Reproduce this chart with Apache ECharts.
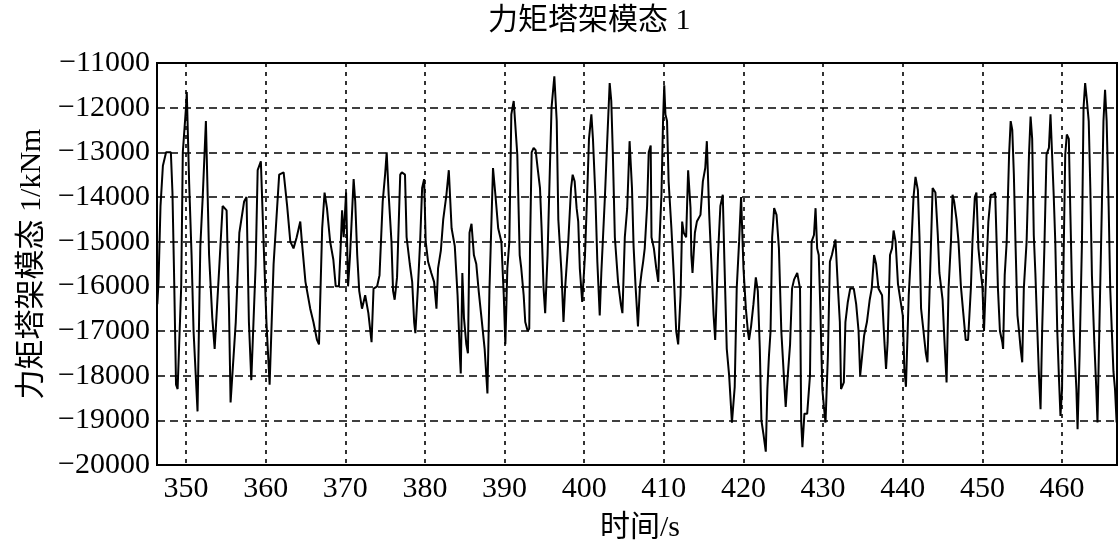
<!DOCTYPE html>
<html><head><meta charset="utf-8">
<script src="https://cdn.jsdelivr.net/npm/echarts@6/dist/echarts.min.js"></script>
<style>html,body{margin:0;padding:0;background:#fff}#c{width:1120px;height:545px}</style>
</head><body><div id="c"></div>
<script>
const titleText = '力矩塔架模态 1';
const xName = '时间/s';
const yName = '力矩塔架模态 1/kNm';
const xTicks = [350, 360, 370, 380, 390, 400, 410, 420, 430, 440, 450, 460];
const yTicks = [-20000, -19000, -18000, -17000, -16000, -15000, -14000, -13000, -12000, -11000];
const xRange = [346.36, 466.9];

// [time s, torque kNm]
const seg346 = [[346.4,-16400],[346.55,-15900],[346.8,-14200],[347.1,-13300],[347.5,-13000],[348.1,-13000],[348.3,-13900],[348.5,-15700],[348.75,-18200],[348.95,-18300],
[349.4,-16000],[349.6,-13000],[350.0,-12000],[350.1,-11650],[350.4,-13700],[350.7,-15300],[350.95,-17000],[351.45,-18800],[351.8,-15100],[352.1,-14000],
[352.5,-12300],[352.9,-15300],[353.3,-16700],[353.6,-17400],[354.2,-15500],[354.6,-14200],[355.1,-14300],[355.4,-16500],[355.6,-18600],[356.25,-16800],
[356.7,-14800],[357.3,-14100],[357.6,-14000],[357.9,-16800],[358.2,-18100],[358.75,-15500],[359.0,-13400],[359.4,-13200],[359.8,-15300],[360.1,-16800],
[360.5,-18200],[361.0,-15500],[361.7,-13500]];
const seg362 = [[362.26,-13450],[362.7,-14200],[363.1,-15000],[363.5,-15150],[363.9,-14900],[364.35,-14550],[364.55,-15000],
[365.0,-15900],[365.6,-16500],[366.0,-16800],[366.45,-17200],[366.7,-17300],[367.1,-14700],[367.4,-13900],[367.7,-14250],[368.1,-15000],[368.5,-15400],
[368.8,-16000],[369.2,-16000],[369.4,-15200],[369.6,-14300],[369.8,-14900],[370.1,-13900],[370.35,-16000],[370.6,-15300],[371.05,-13600],[371.25,-14100],
[371.5,-15300],[371.75,-16100],[372.1,-16500],[372.5,-16200],[372.9,-16600],[373.3,-17250],[373.55,-16050],[374.0,-16000],[374.3,-15750],[374.7,-14100],
[375.0,-13500],[375.2,-13000],[375.45,-13950],[375.8,-15000],[376.0,-16100],[376.2,-16300],[376.5,-15800],[376.9,-13500]];
const seg377 = [[377.1,-13450],[377.5,-13500],[377.7,-14900],[378.1,-15500],[378.4,-15900],[378.65,-16800],[378.8,-17050],[379.1,-16100],[379.4,-15000],[379.65,-13800],[379.9,-13600],
[380.1,-15000],[380.4,-15450],[380.8,-15700],[381.15,-15900],[381.45,-16500],[381.65,-15600],[382.0,-15200],[382.3,-14500],[382.7,-13950],[383.0,-13400],
[383.35,-14700],[383.75,-15100],[384.1,-16200],[384.4,-17600],[384.5,-17950],[384.7,-15700],[384.9,-16700],[385.2,-17300],[385.4,-17500],[385.6,-14800],
[385.85,-14600],[386.15,-15300],[386.45,-15500],[386.75,-16100],[387.1,-16700],[387.5,-17400],[387.85,-18400],[388.1,-16100],[388.55,-13350],[388.85,-13950],
[389.2,-14700],[389.6,-15000],[389.9,-16200],[390.1,-17300],[390.35,-15600],[390.6,-15000],[390.85,-12150],[391.15,-11850],[391.6,-13050],[391.9,-15300]];
const seg392 = [[392.1,-15600],[392.4,-16200],[392.6,-16800],[392.9,-17000],[393.1,-16950],[393.2,-15100],[393.4,-13000],[393.65,-12900],[393.9,-12950],[394.15,-13350],[394.45,-13800],
[394.65,-14700],[394.9,-16050],[395.1,-16600],[395.4,-15300],[395.7,-13300],[395.9,-12000],[396.25,-11300],[396.55,-12300],[396.75,-14500],[397.15,-15700],
[397.4,-16800],[397.6,-16050],[398.0,-15000],[398.35,-13800],[398.55,-13500],[398.8,-13650],[399.05,-14250],[399.25,-14550],[399.45,-15600],[399.75,-16350],
[399.9,-16350],[400.1,-15300],[400.4,-13800],[400.6,-12700],[400.9,-12150],[401.1,-12700],[401.4,-13950],[401.65,-15450],[401.95,-16650],[402.15,-15700],
[402.6,-14000],[402.9,-12700],[403.2,-11450],[403.4,-11850],[403.6,-13050],[403.85,-14900],[404.25,-15900],[404.6,-16400],[404.8,-16600],[405.1,-14900],
[405.4,-14250],[405.7,-12750],[406.0,-13800],[406.2,-15100],[406.45,-16000],[406.75,-16900],[407.0,-16000]];
const seg407 = [[407.2,-15700],[407.4,-15450],[407.6,-15150],[407.9,-14200],[408.1,-13000],[408.35,-12850],[408.45,-14900],[408.75,-15150],[409.05,-15600],[409.3,-15900],
[409.45,-15000],[409.7,-13950],[409.9,-12300],[410.05,-11500],[410.2,-12150],[410.4,-12300],[410.6,-13650],[410.95,-14700],[411.25,-15750],[411.55,-17000],
[411.8,-17300],[412.1,-16200],[412.3,-14550],[412.5,-14800],[412.8,-14900],[413.05,-13400],[413.35,-14250],[413.45,-15300],[413.6,-15700],[413.9,-14800],
[414.15,-14550],[414.6,-14400],[414.9,-13650],[415.2,-13350],[415.4,-12750],[415.7,-14400],[415.95,-15400],[416.25,-16650],[416.45,-17200],[416.8,-15300],
[417.1,-14200],[417.4,-13950],[417.6,-15400],[417.9,-17400],[418.2,-18000],[418.55,-19050],[418.9,-18250],[419.15,-16050],[419.45,-15000],[419.7,-14000],
[420.0,-15600],[420.3,-16500],[420.55,-17000],[420.7,-17200],[420.95,-16900],[421.25,-16400],[421.55,-15800],[421.8,-16100]];
const seg422 = [[422.05,-17400],[422.25,-19000],[422.5,-19300],[422.8,-19700],[423.0,-18300],[423.2,-17550],[423.4,-17000],[423.6,-14900],[423.85,-14250],[424.15,-14400],
[424.45,-15150],[424.75,-17000],[425.1,-18100],[425.3,-18700],[425.5,-18150],[425.85,-17300],[426.1,-16050],[426.35,-15850],[426.75,-15700],[427.1,-16050],
[427.25,-19050],[427.4,-19600],[427.65,-18850],[428.0,-18850],[428.35,-18000],[428.55,-15000],[428.85,-14850],[429.05,-14250],[429.25,-15150],[429.45,-15300],
[429.65,-16500],[429.9,-18300],[430.1,-18700],[430.3,-19050],[430.6,-17550],[430.85,-15450],[431.1,-15300],[431.55,-14950],[431.85,-16000],[432.1,-16800],
[432.25,-18300],[432.6,-18150],[432.8,-16800],[433.1,-16350],[433.4,-16050],[433.85,-16050],[434.15,-16400],[434.45,-17000],[434.65,-18000],[434.9,-17550],
[435.15,-17100],[435.5,-16800],[435.85,-16300],[436.1,-16050],[436.4,-15300],[436.65,-15500],[436.95,-16050]];
const seg437 = [[437.4,-16200],[437.7,-17250],[437.9,-17850],[438.1,-17250],[438.4,-15300],[438.65,-15150],[438.85,-14750],[439.1,-15000],[439.4,-15950],[439.65,-15950],
[440.0,-16650],[440.2,-17850],[440.4,-18250],[440.75,-16200],[441.05,-15200],[441.35,-14000],[441.6,-13550],[441.9,-13850],[442.1,-14900],[442.3,-16500],
[442.6,-17000],[442.9,-17500],[443.1,-17700],[443.35,-16200],[443.55,-15000],[443.75,-13800],[444.1,-13900],[444.4,-14850],[444.6,-15700],[445.0,-16300],
[445.2,-17100],[445.5,-18150],[445.75,-16050],[446.05,-15000],[446.25,-13950],[446.45,-14100],[446.75,-14500],[447.0,-15000],[447.3,-16000],[447.6,-16600],
[447.9,-17200],[448.2,-17200],[448.55,-16050],[448.75,-15000],[449.05,-14000],[449.25,-13900],[449.5,-15150],[449.8,-15700],[450.0,-16000],[450.2,-17000],
[450.4,-16050],[450.75,-14550],[451.05,-13950],[451.35,-13950]];
const seg451 = [[451.6,-13900],[451.8,-15100],[451.95,-16050],[452.2,-17000],[452.5,-17250],[452.6,-17400],[452.8,-15750],[453.05,-15000],[453.35,-13050],[453.55,-12300],
[453.75,-12500],[453.95,-13500],[454.15,-15000],[454.4,-16650],[454.6,-17000],[454.8,-17400],[455.0,-17700],[455.2,-16050],[455.55,-15000],[455.85,-13050],
[456.05,-12200],[456.25,-12700],[456.45,-14850],[456.65,-15700],[456.9,-17000],[457.1,-18000],[457.3,-18750],[457.5,-17000],[457.8,-15000],[458.05,-13050],
[458.35,-12900],[458.55,-12150],[458.75,-13050],[458.95,-13950],[459.15,-15000],[459.4,-17000],[459.6,-18000],[459.8,-18900],[460.0,-18300],[460.2,-15300],
[460.4,-13050],[460.6,-12600],[460.85,-12700],[461.05,-14400],[461.25,-16050],[461.45,-17000],[461.8,-18300],[461.95,-19200],[462.2,-17550],[462.5,-15000],
[462.7,-12000],[462.9,-11450],[463.1,-11800],[463.35,-12300],[463.55,-13800],[463.75,-15750],[464.05,-17250],[464.3,-18300],[464.45,-19050],[464.7,-16800],
[465.0,-14200],[465.2,-12300],[465.4,-11600],[465.6,-12300],[465.85,-14200],[466.05,-16050],[466.25,-17000],[466.45,-17900],[466.65,-18300],[466.85,-19050]];

const torque = [].concat(seg346, seg362, seg377, seg392, seg407, seg422, seg437, seg451);

const FONT = "'Liberation Serif','Noto Sans CJK SC',serif";
const chart = echarts.init(document.getElementById('c'), null, {renderer: 'canvas'});
chart.setOption({
  animation: false,
  backgroundColor: '#fff',
  title: {
    text: titleText, left: 483, top: 1,
    textStyle: {fontSize: 30, fontWeight: 'normal', fontFamily: FONT, color: '#000'}
  },
  grid: {left: 157, right: 3, top: 63, bottom: 80, outerBoundsMode: 'none', containLabel: false,
    show: true, borderColor: '#000', borderWidth: 2, backgroundColor: 'transparent'},
  xAxis: {
    type: 'value', min: xRange[0], max: xRange[1],
    axisLine: {show: true, onZero: false, lineStyle: {color: '#000', width: 2}},
    axisTick: {show: false, customValues: xTicks},
    axisLabel: {customValues: xTicks, color: '#000', fontSize: 30, fontFamily: FONT, margin: 9},
    splitLine: {show: true, lineStyle: {type: [4, 5], color: '#000', width: 1.6}},
    name: xName, nameLocation: 'middle', nameGap: 48,
    nameTextStyle: {fontSize: 30, fontFamily: FONT, color: '#000', verticalAlign: 'top', padding: [0, 0, 0, 6]}
  },
  yAxis: {
    type: 'value', min: yTicks[0], max: yTicks[yTicks.length - 1], interval: 1000,
    axisLine: {show: true, lineStyle: {color: '#000', width: 2}},
    axisTick: {show: false},
    axisLabel: {color: '#000', fontSize: 30, fontFamily: FONT, margin: 7,
      formatter: v => String(v).replace('-', '\u2212')},
    splitLine: {show: true, lineStyle: {type: [8, 5], color: '#000', width: 1.6}},
    name: yName, nameLocation: 'middle', nameGap: 100, nameRotate: 90,
    nameTextStyle: {fontSize: 30, fontFamily: FONT, color: '#000'}
  },
  series: [{
    type: 'line', data: torque, showSymbol: false, symbol: 'none',
    lineStyle: {color: '#000', width: 2}, clip: true
  }]
});
</script></body></html>
